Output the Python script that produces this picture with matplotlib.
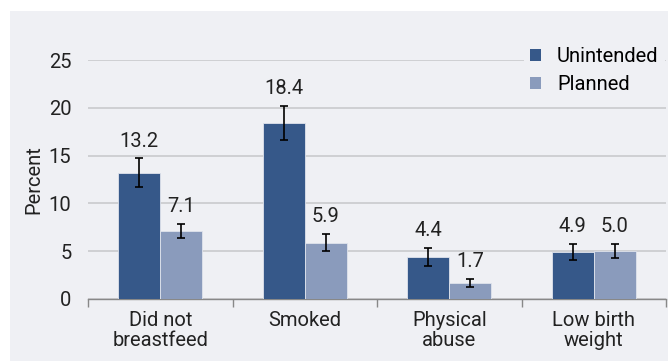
import numpy as np
import matplotlib.pyplot as plt
from matplotlib.patches import Rectangle

# --- Data ---
categories = ["Did not\nbreastfeed", "Smoked", "Physical\nabuse", "Low birth\nweight"]
unintended = [13.2, 18.4, 4.4, 4.9]
planned = [7.1, 5.9, 1.7, 5.0]
unintended_err = [1.5, 1.8, 0.9, 0.85]
planned_err = [0.75, 0.9, 0.4, 0.75]
yticks = [0, 5, 10, 15, 20, 25]

# --- Style ---
DARK = "#365889"
LIGHT = "#8A9BBC"
PANEL = "#EFF0F4"
GRID = "#C9CACD"
plt.rcParams['font.family'] = ['Liberation Sans Narrow', 'Roboto', 'DejaVu Sans']
FS = 14.5

fig = plt.figure(figsize=(6.68, 3.62), dpi=100)
fig.patch.set_facecolor("white")
fig.patches.append(Rectangle((10 / 668, 1 - 361 / 362), 658 / 668, 350 / 362,
                             transform=fig.transFigure, facecolor=PANEL,
                             edgecolor="none", zorder=-10))

ax = fig.add_axes([88 / 668, 1 - 299 / 362, 578 / 668, 239 / 362])
ax.set_facecolor("none")

x = np.arange(len(categories))
w = 0.29
err_kw = dict(ecolor="black", elinewidth=1.2, capsize=3.2, capthick=1.2)
b1 = ax.bar(x - w / 2, unintended, w, color=DARK, edgecolor="#dfe3ec", linewidth=0.6,
            yerr=unintended_err, error_kw=err_kw, label="Unintended", zorder=3)
b2 = ax.bar(x + w / 2, planned, w, color=LIGHT, edgecolor="#dfe3ec", linewidth=0.6,
            yerr=planned_err, error_kw=err_kw, label="Planned", zorder=3)

# value labels above the error bars
for xs, vals, errs in [(x - w / 2, unintended, unintended_err), (x + w / 2, planned, planned_err)]:
    for xi, v, e in zip(xs, vals, errs):
        ax.annotate(f"{v:.1f}", (xi, v + e), xytext=(0, 12.5), textcoords="offset points",
                    ha="center", va="center", fontsize=FS, color="#222222", clip_on=False)

ax.set_xlim(-0.5, len(categories) - 0.5)
ax.set_ylim(0, 25)
ax.set_yticks(yticks)
ax.tick_params(axis="y", length=0, labelsize=FS, pad=12, colors="#222222")
ax.yaxis.grid(True, color=GRID, linewidth=1.2, zorder=0)
ax.set_axisbelow(True)

ax.set_xticks(x)
ax.set_xticklabels(categories, fontsize=FS, color="#222222", linespacing=1.0)
ax.tick_params(axis="x", which="major", length=0, pad=9)
ax.set_xticks(np.arange(-0.5, len(categories)), minor=True)
ax.tick_params(axis="x", which="minor", length=6, width=1, color="#888888")

for s in ["top", "right", "left"]:
    ax.spines[s].set_visible(False)
ax.spines["bottom"].set_color("#888888")
ax.spines["bottom"].set_linewidth(1)

ax.set_ylabel("Percent", fontsize=FS, color="#222222", labelpad=4)

leg = fig.legend(handles=[b1, b2], labels=["Unintended", "Planned"],
                 loc="upper right", bbox_to_anchor=(1.01, 0.915), frameon=True,
                 fontsize=FS, handlelength=0.55, handleheight=0.55, handletextpad=0.8,
                 labelspacing=0.45, borderpad=0.3)
leg.get_frame().set_facecolor(PANEL)
leg.get_frame().set_edgecolor("none")
leg.get_frame().set_alpha(1)
for h in leg.legend_handles:
    h.set_edgecolor("none")

fig.savefig("out.png", dpi=100)
